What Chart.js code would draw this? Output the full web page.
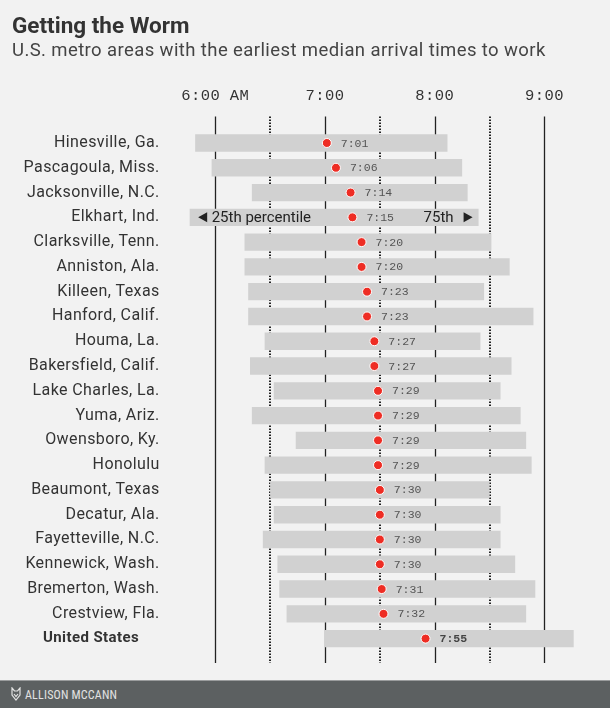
<!DOCTYPE html>
<html>
<head>
<meta charset="utf-8">
<script src="https://cdn.jsdelivr.net/npm/chart.js@4.4.1/dist/chart.umd.min.js"></script>
<style>
  body { margin: 0; background: #f2f2f2; width: 610px; height: 708px; overflow: hidden; position: relative; font-family: Roboto, sans-serif; }
  #chart { position: absolute; left: 0; top: 0; }
  .title { position: absolute; left: 12px; top: 14px; font-size: 22.5px; line-height: 22.5px; font-weight: 700; color: #333; white-space: nowrap; }
  .subtitle { position: absolute; left: 12px; top: 41px; font-size: 18.5px; line-height: 18.5px; letter-spacing: 0.4px; color: #444; white-space: nowrap; }
  .footer { position: absolute; left: 0; top: 680px; width: 610px; height: 28px; background: #5c6061; border-top: 1px solid #9a9c9d; box-sizing: border-box; }
  .footer svg { position: absolute; left: 11px; top: 6px; }
  .footer span { position: absolute; left: 25px; top: 7px; font-family: "Liberation Sans Narrow", "Roboto Condensed", sans-serif; font-size: 12px; line-height: 14px; color: #e2e2e2; letter-spacing: 0.2px; }
</style>
</head>
<body>
<canvas id="chart" width="610" height="680"></canvas>
<div class="title">Getting the Worm</div>
<div class="subtitle">U.S. metro areas with the earliest median arrival times to work</div>
<div class="footer">
  <svg width="10" height="14" viewBox="0 0 10 14"><path d="M1 1 L3.5 4 L6.5 4 L9 1 L9 8 L5 13 L1 8 Z M3 7 L5 9.5 L7 7" fill="none" stroke="#e2e2e2" stroke-width="1.2"/></svg>
  <span>ALLISON MCCANN</span>
</div>
<script>
// metro areas, top to bottom
const cities = ['Hinesville, Ga.', 'Pascagoula, Miss.', 'Jacksonville, N.C.', 'Elkhart, Ind.',
  'Clarksville, Tenn.', 'Anniston, Ala.', 'Killeen, Texas', 'Hanford, Calif.', 'Houma, La.',
  'Bakersfield, Calif.', 'Lake Charles, La.', 'Yuma, Ariz.', 'Owensboro, Ky.', 'Honolulu',
  'Beaumont, Texas', 'Decatur, Ala.', 'Fayetteville, N.C.', 'Kennewick, Wash.',
  'Bremerton, Wash.', 'Crestview, Fla.', 'United States'];
// arrival times: 25th percentile, median, 75th percentile
const p25 = ['5:49', '5:58', '6:20', '5:46', '6:16', '6:16', '6:18', '6:18', '6:27', '6:19', '6:32',
  '6:20', '6:44', '6:27', '6:30', '6:32', '6:26', '6:34', '6:35', '6:39', '7:00'];
const median = ['7:01', '7:06', '7:14', '7:15', '7:20', '7:20', '7:23', '7:23', '7:27', '7:27', '7:29',
  '7:29', '7:29', '7:29', '7:30', '7:30', '7:30', '7:30', '7:31', '7:32', '7:55'];
const p75 = ['8:07', '8:15', '8:18', '8:24', '8:31', '8:41', '8:27', '8:54', '8:25', '8:42', '8:36',
  '8:47', '8:50', '8:53', '8:30', '8:36', '8:36', '8:44', '8:55', '8:50', '9:16'];
// axis
const tickTimes = ['6:00', '7:00', '8:00', '9:00'];
const tickLabels = ['6:00 AM', '7:00', '8:00', '9:00'];
const halfHours = ['6:30', '7:30', '8:30'];

const toMin = s => { const [h, m] = s.split(':').map(Number); return h * 60 + m; };
const US = cities.length - 1;

const gridPlugin = {
  id: 'timeGrid',
  beforeDraw(chart) {
    // axis labels in the original are a little spaced out
    chart.ctx.letterSpacing = '0.4px';
  },
  beforeDatasetsDraw(chart) {
    const { ctx, chartArea, scales: { x } } = chart;
    ctx.letterSpacing = '0px';
    const top = chartArea.top - 14, bottom = chartArea.bottom + 12;
    ctx.save();
    ctx.strokeStyle = '#222';
    ctx.lineWidth = 1.3;
    tickTimes.forEach(t => {
      const px = Math.round(x.getPixelForValue(toMin(t))) + 0.5;
      ctx.beginPath(); ctx.moveTo(px, top); ctx.lineTo(px, bottom); ctx.stroke();
    });
    ctx.lineWidth = 2;
    ctx.setLineDash([1.5, 1.5]);
    halfHours.forEach(t => {
      const px = Math.round(x.getPixelForValue(toMin(t)));
      ctx.beginPath(); ctx.moveTo(px, top); ctx.lineTo(px, bottom); ctx.stroke();
    });
    ctx.restore();
  }
};

const labelPlugin = {
  id: 'medianLabels',
  afterDatasetsDraw(chart) {
    const ctx = chart.ctx;
    ctx.save();
    ctx.textBaseline = 'middle';
    ctx.textAlign = 'left';
    chart.getDatasetMeta(0).data.forEach((pt, i) => {
      ctx.font = (i === US ? 'bold ' : '') + '11.5px "Liberation Mono", monospace';
      ctx.fillStyle = i === US ? '#444' : '#555';
      ctx.fillText(median[i], pt.x + 14, pt.y + 0.5);
    });

    // Elkhart bar doubles as the key
    const bar = chart.getDatasetMeta(1).data[3];
    const y = bar.y, l = bar.base, r = bar.x;
    ctx.fillStyle = '#222';
    ctx.font = '15px Roboto, sans-serif';
    ctx.fillText('25th percentile', l + 22, y + 0.5);
    ctx.textAlign = 'right';
    ctx.fillText('75th', r - 25, y + 0.5);
    ctx.beginPath();
    ctx.moveTo(l + 8.5, y); ctx.lineTo(l + 17.5, y - 5); ctx.lineTo(l + 17.5, y + 5); ctx.closePath();
    ctx.moveTo(r - 6, y); ctx.lineTo(r - 15, y - 5); ctx.lineTo(r - 15, y + 5); ctx.closePath();
    ctx.fill();
    ctx.restore();
  }
};

new Chart(document.getElementById('chart'), {
  type: 'bar',
  data: {
    labels: cities,
    datasets: [{
      type: 'line',
      data: median.map(toMin),
      showLine: false,
      pointRadius: 4.5,
      pointBackgroundColor: '#ee2d24',
      pointBorderColor: '#fff',
      pointBorderWidth: 1,
      order: 0
    }, {
      data: cities.map((c, i) => [toMin(p25[i]), toMin(p75[i])]),
      backgroundColor: '#d1d1d1',
      barPercentage: 0.7,
      categoryPercentage: 1,
      order: 1
    }]
  },
  options: {
    indexAxis: 'y',
    responsive: false,
    animation: false,
    layout: { padding: { top: 80, right: 29, bottom: 29, left: 0 } },
    plugins: { legend: { display: false }, tooltip: { enabled: false } },
    scales: {
      x: {
        type: 'linear',
        position: 'top',
        min: 340,
        max: 560,
        grid: { display: false, drawTicks: false },
        border: { display: false },
        afterBuildTicks: s => { s.ticks = tickTimes.map(t => ({ value: toMin(t) })); },
        afterFit: s => { s.height = 50.6; },
        ticks: {
          padding: 25,
          color: '#333',
          font: { family: '"Liberation Mono", monospace', size: 15.5 },
          callback: (v, i) => tickLabels[i]
        }
      },
      y: {
        type: 'category',
        grid: { display: false, drawTicks: false },
        border: { display: false },
        afterFit: s => { s.width = 178.7; },
        ticks: {
          padding: 19,
          color: '#333',
          font: ctx => ctx.index === US
            ? { family: 'Roboto, sans-serif', size: 15, weight: 'bold' }
            : { family: 'Roboto, sans-serif', size: 16, weight: 'normal' },
          callback: (v, i) => i === US ? cities[i] + '\u00a0\u00a0\u00a0\u00a0\u00a0' : cities[i]
        }
      }
    }
  },
  plugins: [gridPlugin, labelPlugin]
});
</script>
</body>
</html>
